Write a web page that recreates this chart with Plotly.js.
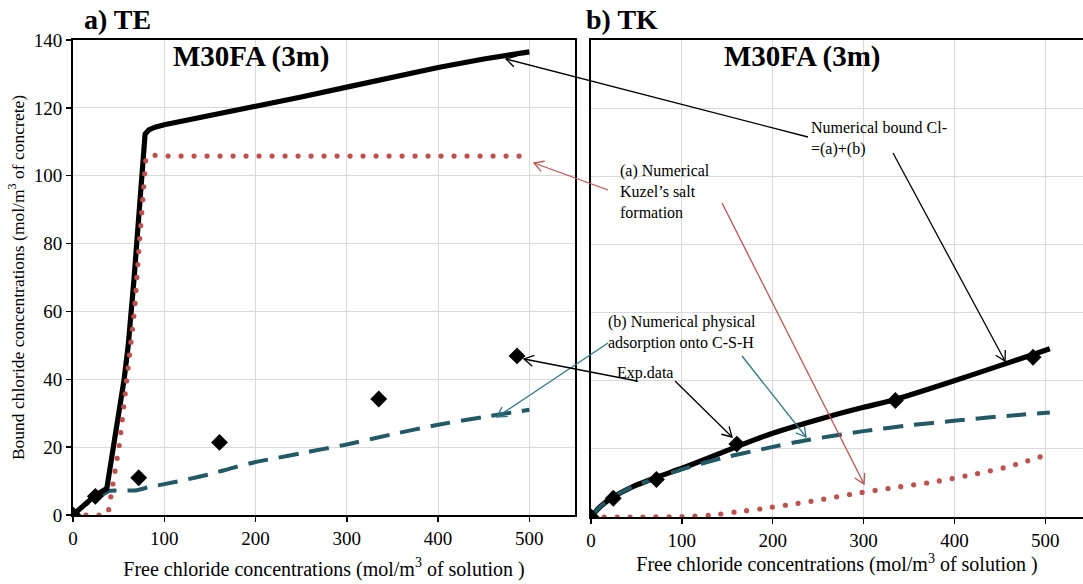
<!DOCTYPE html>
<html>
<head>
<meta charset="utf-8">
<script src="https://cdn.plot.ly/plotly-3.0.1.min.js"></script>
<style>html,body{margin:0;padding:0;background:#fff;}#chart{width:1083px;height:584px;}</style>
</head>
<body>
<div id="chart"></div>
<script>
// ---- Data ----
// a) TE : numerical total bound chloride
const xTotalTE = [0, 12, 24, 37, 44, 48, 51.5, 56, 60.5, 64.3, 67, 69.8, 72.5, 75.3, 76.2, 77, 79, 83, 90, 100, 150, 200, 250, 300, 350, 400, 450, 500];
const yTotalTE = [0, 3, 5.7, 7.8, 19.2, 25, 32, 40, 50, 60, 70, 80, 90, 100, 106, 110, 112.3, 113.5, 114.3, 115, 117.7, 120.3, 123.2, 126.1, 129.1, 131.9, 134.4, 136.5];
// a) TE : Kuzel's salt formation
const xKuzelTE = [0, 20, 35, 38.6, 41, 44, 46, 48, 50.4, 52.2, 54, 55.9, 59.5, 63.6, 67.3, 72.7, 77.9, 80, 90, 100, 200, 300, 400, 500];
const yKuzelTE = [0, 0, 0, 0.7, 4.4, 8.2, 12.1, 16, 20, 23.8, 27.8, 31.8, 40.5, 51.3, 60, 80, 100, 105.5, 106, 105.8, 105.8, 105.8, 105.8, 105.8];
// a) TE : physical adsorption onto C-S-H
const xAdsTE = [0, 9, 24, 35, 40, 50, 70, 83, 100, 120, 150, 175, 200, 225, 250, 275, 300, 350, 400, 450, 500];
const yAdsTE = [0, 2.3, 4.7, 6.4, 7.1, 7.2, 7.3, 8.2, 9.1, 10.2, 12, 13.9, 15.6, 16.9, 18.2, 19.5, 20.8, 23.8, 26.6, 28.9, 31];
// Experimental data (both panels)
const xExp = [0, 24.5, 72, 160.5, 335, 486.5];
const yExp = [0, 5.5, 11, 21.4, 34.2, 46.9];
// b) TK : numerical total bound chloride
const xTotalTK = [0, 10, 24, 45, 71.6, 100, 130, 160, 200, 263, 300, 335, 399, 454, 505];
const yTotalTK = [0, 3, 5.8, 8.8, 11.6, 14.3, 17.4, 20.6, 24.6, 29.6, 32.2, 34.5, 39.9, 44.8, 49.4];
// b) TK : Kuzel's salt formation
const xKuzelTK = [0, 50, 100, 131, 160, 190, 220, 249, 291, 333, 377, 419, 461, 503];
const yKuzelTK = [0, 0, 0.1, 0.5, 1.5, 2.5, 3.7, 4.9, 6.9, 8.6, 10.3, 12.4, 14.9, 18.4];
// b) TK : physical adsorption onto C-S-H
const xAdsTK = [0, 10, 24, 45, 71.6, 100, 145.6, 190, 234, 300, 350, 402, 450, 505];
const yAdsTK = [0, 3, 5.8, 8.8, 11.4, 14, 17.4, 20, 22.4, 25.2, 26.9, 28.3, 29.5, 30.7];

const xTicks = [0, 100, 200, 300, 400, 500];
const yTicks = [0, 20, 40, 60, 80, 100, 120, 140];

// ---- Styles ----
const SERIF = '"Liberation Serif", "Times New Roman", serif';
const RED = 'rgb(192, 80, 77)';
const TEAL = 'rgb(33, 89, 103)';
const TEAL_ARROW = 'rgb(49, 118, 133)';
const W = 1083, H = 584, ML = 0, MR = 0, MT = 40, MB = 67;

function totalTrace(x, y, xa, ya, smooth) {
  return {x, y, xaxis: xa, yaxis: ya, mode: 'lines', line: {color: '#000', width: 5.2, shape: smooth ? 'spline' : 'linear', smoothing: 0.7}, hoverinfo: 'skip', showlegend: false};
}
function kuzelTrace(x, y, xa, ya, smooth) {
  return {x, y, xaxis: xa, yaxis: ya, mode: 'lines', line: {color: RED, width: 5.2, dash: '0px,13px', shape: smooth ? 'spline' : 'linear', smoothing: 0.7}, hoverinfo: 'skip', showlegend: false};
}
function adsTrace(x, y, xa, ya) {
  return {x, y, xaxis: xa, yaxis: ya, mode: 'lines', line: {color: TEAL, width: 4, dash: '20px,11px', shape: 'spline', smoothing: 0.6}, hoverinfo: 'skip', showlegend: false};
}
function expTrace(xa, ya) {
  return {x: xExp, y: yExp, xaxis: xa, yaxis: ya, mode: 'markers', marker: {symbol: 'diamond', size: 13, color: '#000'}, hoverinfo: 'skip', showlegend: false};
}

const data = [
  adsTrace(xAdsTE, yAdsTE, 'x', 'y'),
  totalTrace(xTotalTE, yTotalTE, 'x', 'y', false),
  kuzelTrace(xKuzelTE, yKuzelTE, 'x', 'y', false),
  expTrace('x', 'y'),
  kuzelTrace(xKuzelTK, yKuzelTK, 'x2', 'y2', true),
  totalTrace(xTotalTK, yTotalTK, 'x2', 'y2', true),
  adsTrace(xAdsTK, yAdsTK, 'x2', 'y2'),
  expTrace('x2', 'y2')
];

// pixel -> paper helpers for call-out arrows
const PW = W - ML - MR, PH = H - MT - MB;
const px = v => (v - ML) / PW;
const py = v => (H - MB - v) / PH;

function arrowShapes(tail, head, color) {
  const dx = head[0] - tail[0], dy = head[1] - tail[1];
  const len = Math.hypot(dx, dy), ux = dx / len, uy = dy / len;
  const L = 11, a = Math.PI / 6;
  const p1 = [head[0] - L * (ux * Math.cos(a) - uy * Math.sin(a)), head[1] - L * (uy * Math.cos(a) + ux * Math.sin(a))];
  const p2 = [head[0] - L * (ux * Math.cos(a) + uy * Math.sin(a)), head[1] - L * (uy * Math.cos(a) - ux * Math.sin(a))];
  const line = {color, width: 1.3};
  return [
    {type: 'line', xref: 'paper', yref: 'paper', x0: px(tail[0]), y0: py(tail[1]), x1: px(head[0]), y1: py(head[1]), line, layer: 'above'},
    {type: 'path', xref: 'paper', yref: 'paper', layer: 'above', line,
     path: `M${px(p1[0])},${py(p1[1])} L${px(head[0])},${py(head[1])} L${px(p2[0])},${py(p2[1])}`}
  ];
}

const shapes = [].concat(
  arrowShapes([808, 137], [506, 59], '#000'),
  arrowShapes([893, 153], [1005, 361], '#000'),
  arrowShapes([608, 190], [534, 163], RED),
  arrowShapes([722, 203], [864, 484], RED),
  arrowShapes([608, 343], [497, 417], TEAL_ARROW),
  arrowShapes([742, 356], [806, 437], TEAL_ARROW),
  arrowShapes([637, 381], [524, 359], '#000'),
  arrowShapes([675, 381], [732, 437], '#000')
);

function textAnn(text, left, top, size, bold) {
  return {text: bold ? '<b>' + text + '</b>' : text, xref: 'paper', yref: 'paper', x: px(left), y: py(top),
    xanchor: 'left', yanchor: 'top', align: 'left', showarrow: false, borderpad: 0,
    font: {family: SERIF, size, color: '#000'}};
}
function centerAnn(text, cx, cy, size) {
  return {text, xref: 'paper', yref: 'paper', x: px(cx), y: py(cy), xanchor: 'center', yanchor: 'middle',
    showarrow: false, borderpad: 0, font: {family: SERIF, size, color: '#000'}};
}

const annotations = [
  centerAnn('<b>a) TE</b>', 117, 20, 28),
  centerAnn('<b>b) TK</b>', 622, 20, 28),
  centerAnn('<b>M30FA (3m)</b>', 251, 57, 29),
  centerAnn('<b>M30FA (3m)</b>', 802, 57, 29),
  textAnn('Numerical bound Cl-<br>=(a)+(b)', 810, 118, 16, false),
  textAnn('(a) Numerical<br>Kuzel’s salt<br>formation', 619, 161, 16, false),
  textAnn('(b) Numerical physical<br>adsorption onto C-S-H', 607, 312, 16, false),
  textAnn('Exp.data', 616, 363, 16, false)
];

const axisCommon = {
  showgrid: true, gridcolor: '#d9d9d9', gridwidth: 1, zeroline: false,
  showline: true, linecolor: '#000', linewidth: 2,
  ticks: 'outside', ticklen: 5, tickwidth: 1.5, tickcolor: '#000',
  tickfont: {family: SERIF, size: 19, color: '#000'}, fixedrange: true
};

const layout = {
  width: W, height: H,
  margin: {l: ML, r: MR, t: MT, b: MB, pad: 0},
  paper_bgcolor: '#fff', plot_bgcolor: '#fff',
  font: {family: SERIF, color: '#000'},
  showlegend: false,
  xaxis: Object.assign({}, axisCommon, {
    domain: [px(73), px(575)], range: [0, 550], tickvals: xTicks, mirror: true, anchor: 'y',
    title: {text: 'Free chloride concentrations (mol/m<sup>3</sup> of solution )', font: {family: SERIF, size: 20, color: '#000'}, standoff: 14}
  }),
  yaxis: Object.assign({}, axisCommon, {
    domain: [2 / PH, 1], range: [0, 140], tickvals: yTicks, mirror: true, anchor: 'x',
    title: {text: 'Bound chloride concentrations (mol/m<sup>3</sup> of concrete)', font: {family: SERIF, size: 17.5, color: '#000'}, standoff: 5}
  }),
  xaxis2: Object.assign({}, axisCommon, {
    domain: [px(591), 1], range: [0, 541.5], tickvals: xTicks, mirror: true, anchor: 'y2',
    ticklabelstandoff: 0,
    title: {text: 'Free chloride concentrations (mol/m<sup>3</sup> of solution )', font: {family: SERIF, size: 20, color: '#000'}, standoff: 6}
  }),
  yaxis2: Object.assign({}, axisCommon, {
    domain: [0, 1], range: [0, 140], tickvals: yTicks, showticklabels: false, ticks: '', mirror: false, anchor: 'x2'
  }),
  shapes, annotations
};

Plotly.newPlot('chart', data, layout, {displayModeBar: false, staticPlot: true}).then(() => {
  // round caps so the dotted series are drawn as round dots
  document.querySelectorAll('#chart .scatterlayer path.js-line').forEach(p => {
    if ((p.style.stroke || '').replace(/\s/g, '') === 'rgb(192,80,77)') {
      p.style.strokeLinecap = 'round';
    }
  });
});
</script>
</body>
</html>
